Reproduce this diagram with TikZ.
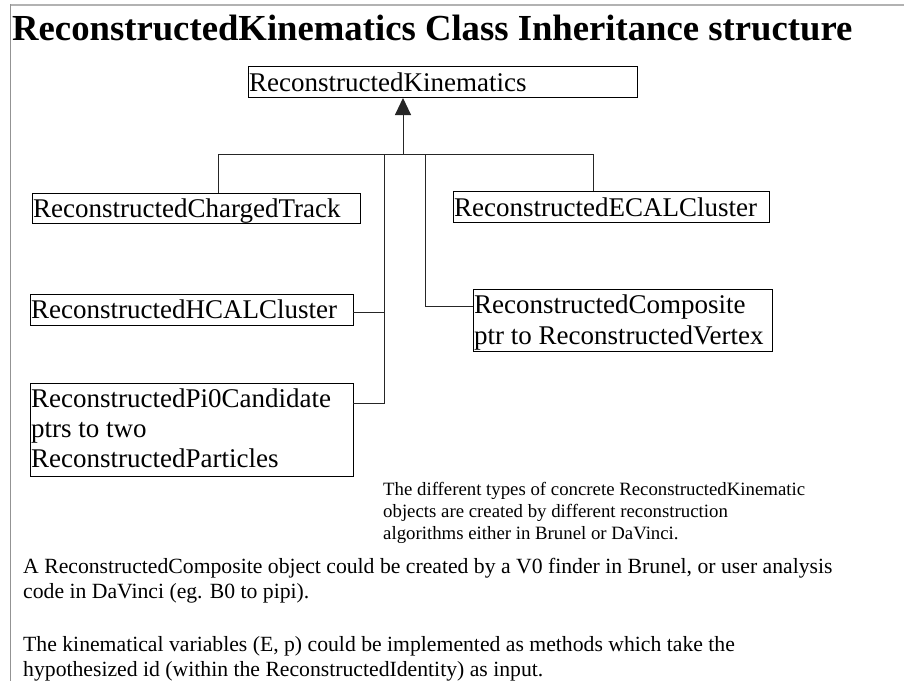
\documentclass[tikz,border=0pt]{standalone}
\usepackage{fontspec}
\setmainfont{Liberation Serif}
\usetikzlibrary{arrows.meta}
\begin{document}
\begin{tikzpicture}[x=1pt,y=-1pt,
  box/.style={draw=black, line width=1pt, inner sep=0pt, anchor=north west},
  boxtext/.style={anchor=base west, inner sep=0pt, font=\fontsize{27}{31}\selectfont},
  wire/.style={draw=black!85, line width=1pt},
  note/.style={anchor=base west, inner sep=0pt, font=\fontsize{18.8}{22}\selectfont},
  para/.style={anchor=base west, inner sep=0pt, font=\fontsize{21.7}{25}\selectfont},
  frame/.style={draw=gray!60, line width=2pt}
]
\useasboundingbox (0,0) rectangle (904,681);
\fill[white] (0,0) rectangle (904,681);
\draw[frame] (10,5) -- (904,5);
\draw[draw=gray!85, line width=1.2pt] (10.5,4) -- (10.5,681);

\node[anchor=base west, inner sep=0pt, font=\bfseries\fontsize{36.7}{40}\selectfont] (title) at (12,40) {ReconstructedKinematics Class Inheritance structure};

% boxes
\node[box, minimum width=389pt, minimum height=31pt] (rk) at (248,66) {};
\node[box, minimum width=328pt, minimum height=30pt] (ct) at (32,193) {};
\node[box, minimum width=316pt, minimum height=31pt] (ecal) at (453,191) {};
\node[box, minimum width=323pt, minimum height=31pt] (hcal) at (30,294) {};
\node[box, minimum width=299pt, minimum height=62pt] (comp) at (473,289) {};
\node[box, minimum width=323pt, minimum height=93pt] (pi0) at (30,383) {};

% box texts
\node[boxtext] (rkt) at (249,91) {ReconstructedKinematics};
\node[boxtext] (ctt) at (33,217) {ReconstructedChargedTrack};
\node[boxtext] (ecalt) at (454,216) {ReconstructedECALCluster};
\node[boxtext] (hcalt) at (31,318) {ReconstructedHCALCluster};
\node[boxtext] (compt1) at (474,313) {ReconstructedComposite};
\node[boxtext] (compt2) at (474,344) {ptr to ReconstructedVertex};
\node[boxtext] (pit1) at (31,407) {ReconstructedPi0Candidate};
\node[boxtext] (pit2) at (31,437) {ptrs to two};
\node[boxtext] (pit3) at (31,467) {ReconstructedParticles};

% connectors
\coordinate (bus) at (403,154);
\coordinate (busL) at (218,154);
\coordinate (busR) at (593,154);
\coordinate (v1) at (384,154);
\coordinate (v2) at (425,154);
\coordinate (hcc) at (353,312);
\coordinate (pic) at (353,403);
\coordinate (cc) at (473,306);

\draw[wire, -{Triangle[width=16pt,length=17pt]}] (bus) -- (bus |- rk.south);
\draw[wire] (busL) -- (busR);
\draw[wire] (busL) -- (busL |- ct.north);
\draw[wire] (busR) -- (busR |- ecal.north);
\draw[wire] (v1) |- (pic);
\draw[wire] (hcc) -- (hcc -| v1);
\draw[wire] (v2) |- (cc);

% notes
\node[note] (n1) at (383,495) {The different types of concrete ReconstructedKinematic};
\node[note] (n2) at (383,517) {objects are created by different reconstruction};
\node[note] (n3) at (383,539) {algorithms either in Brunel or DaVinci.};

\node[para] (p1) at (23,573) {A ReconstructedComposite object could be created by a V0 finder in Brunel, or user analysis};
\node[para] (p2) at (23,598) {code in DaVinci (eg. B0 to pipi).};
\node[para] (p3) at (23,651) {The kinematical variables (E, p) could be implemented as methods which take the};
\node[para] (p4) at (23,676) {hypothesized id (within the ReconstructedIdentity) as input.};
\end{tikzpicture}
\end{document}
